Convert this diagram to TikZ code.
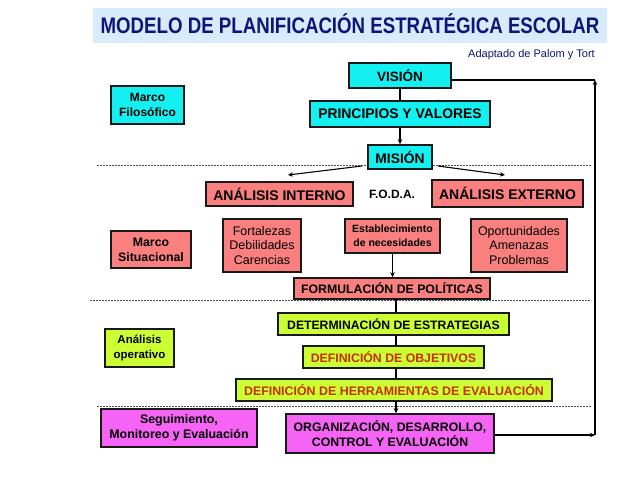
\documentclass[tikz,border=0pt]{standalone}
\usepackage{fontspec}
\setmainfont{Liberation Sans}
\usetikzlibrary{arrows.meta}
\definecolor{cyanb}{RGB}{20,240,240}
\definecolor{salmonb}{RGB}{250,128,128}
\definecolor{limeb}{RGB}{204,255,51}
\definecolor{magb}{RGB}{245,100,245}
\definecolor{titlebg}{RGB}{215,235,252}
\definecolor{navyt}{RGB}{12,22,120}
\definecolor{redt}{RGB}{200,45,0}
\definecolor{bordc}{RGB}{25,25,25}
\newcommand\mybox[7]{%
  \node[#2, minimum width={(#5-#3)*1pt}, minimum height={(#6-#4)*1pt}]
    (#1) at ({(#3+#5)/2},{(#4+#6)/2}) {#7};}
\newcommand\fsz[2]{\fontsize{#1}{#2}\selectfont}
\begin{document}
\begin{tikzpicture}[x=1pt,y=-1pt,
  box/.style={draw=bordc, line width=1.6pt, inner sep=0pt, align=center, font=\bfseries\fsz{12.3}{14.8}},
  cbox/.style={box, fill=cyanb},
  sbox/.style={box, fill=salmonb},
  lbox/.style={box, fill=limeb},
  mbox/.style={box, fill=magb},
  sep/.style={draw=black!70, line width=0.6pt, dash pattern=on 2pt off 1pt},
  conn/.style={draw=black, line width=1.1pt},
  arr/.style={conn, -{Stealth[length=5pt,width=4.5pt]}}
]
\useasboundingbox (0,0) rectangle (638,479);
\fill[white] (0,0) rectangle (638,479);
% title
\fill[titlebg] (93,8) rectangle (607,43);
\node[anchor=base, inner sep=0pt, text=navyt, font=\bfseries\fsz{22.5}{24}] (title) at (350,34)
  {\scalebox{0.83}[1]{MODELO DE PLANIFICACIÓN ESTRATÉGICA ESCOLAR}};
\node[anchor=base east, inner sep=0pt, text=navyt, font=\fsz{11}{13}] (adapt) at (595,57) {Adaptado de Palom y Tort};
% separators
\coordinate (s1a) at (97,165); \coordinate (s1b) at (591,165);
\coordinate (s2a) at (90,300); \coordinate (s2b) at (591,300);
\coordinate (s3a) at (97,406); \coordinate (s3b) at (591,406);
\draw[sep] (s1a) -- (s1b);
\draw[sep] (s2a) -- (s2b);
\draw[sep] (s3a) -- (s3b);
% boxes
\mybox{vision}{cbox, font=\bfseries\fsz{13.5}{16}}{349}{63}{451}{88}{VISIÓN}
\mybox{filos}{cbox, font=\bfseries\fsz{12}{15.5}}{111}{86}{184}{124}{Marco\\Filosófico}
\mybox{princ}{cbox, font=\bfseries\fsz{13.9}{16}}{310}{101}{490}{127}{PRINCIPIOS Y VALORES}
\mybox{mision}{cbox, font=\bfseries\fsz{13.8}{16}}{368}{145}{432}{169}{MISIÓN}
\mybox{intern}{sbox, font=\bfseries\fsz{14}{16}}{206}{182}{353}{206}{ANÁLISIS INTERNO}
\node[inner sep=0pt, font=\bfseries\fsz{12}{14}] (foda) at (392,194) {F.O.D.A.};
\mybox{extern}{sbox, font=\bfseries\fsz{14}{16}}{432}{180}{583}{207}{ANÁLISIS EXTERNO}
\mybox{forta}{sbox, font=\fsz{12.5}{14.8}}{223}{219}{301}{272}{Fortalezas\\Debilidades\\Carencias}
\mybox{estab}{sbox, font=\bfseries\fsz{10.5}{13.8}}{345}{219}{440}{253}{Establecimiento\\de necesidades}
\mybox{oport}{sbox, font=\fsz{12.5}{14.8}}{471}{219}{567}{272}{Oportunidades\\Amenazas\\Problemas}
\mybox{msit}{sbox}{111}{231}{191}{268}{Marco\\Situacional}
\mybox{formu}{sbox}{294}{278}{490}{299}{FORMULACIÓN DE POLÍTICAS}
\mybox{deter}{lbox, font=\bfseries\fsz{12.2}{14}}{278}{313}{509}{335}{DETERMINACIÓN DE ESTRATEGIAS}
\mybox{anop}{lbox, font=\bfseries\fsz{11.5}{15.5}}{105}{329}{174}{367}{Análisis\\operativo}
\mybox{objet}{lbox, text=redt}{303}{346}{484}{368}{DEFINICIÓN DE OBJETIVOS}
\mybox{herr}{lbox, text=redt, font=\bfseries\fsz{12.4}{14}}{236}{379}{552}{401}{DEFINICIÓN DE HERRAMIENTAS DE EVALUACIÓN}
\mybox{org}{mbox}{286}{414}{494}{453}{ORGANIZACIÓN, DESARROLLO,\\CONTROL Y EVALUACIÓN}
\mybox{segui}{mbox, font=\bfseries\fsz{12.4}{15}}{101}{409}{257}{447}{Seguimiento,\\Monitoreo y Evaluación}
% connectors
\draw[conn] (vision.south) -- (princ.north);
\draw[arr] (princ.south) -- (mision.north);
\coordinate (mL) at (362,166); \coordinate (mR) at (438,166);
\coordinate (iT) at (288,175); \coordinate (eT) at (505,175);
\draw[arr] (mL) -- (iT);
\draw[arr] (mR) -- (eT);
\draw[arr] (estab.south) -- (estab.south |- formu.north);
\coordinate (spT) at (396,299);
\draw[conn] (spT) -- (spT |- deter.north);
\draw[conn] (spT |- deter.south) -- (spT |- objet.north);
\draw[conn] (spT |- objet.south) -- (spT |- herr.north);
\draw[arr] (spT |- herr.south) -- (spT |- org.north);
\coordinate (rB) at (595,435);
\coordinate (rT) at (595,80);
\draw[arr] (org.east |- rB) -- (rB);
\draw[arr] (rB) -- (rT);
\draw[conn] (vision.east |- rT) -- (rT);
\end{tikzpicture}
\end{document}
